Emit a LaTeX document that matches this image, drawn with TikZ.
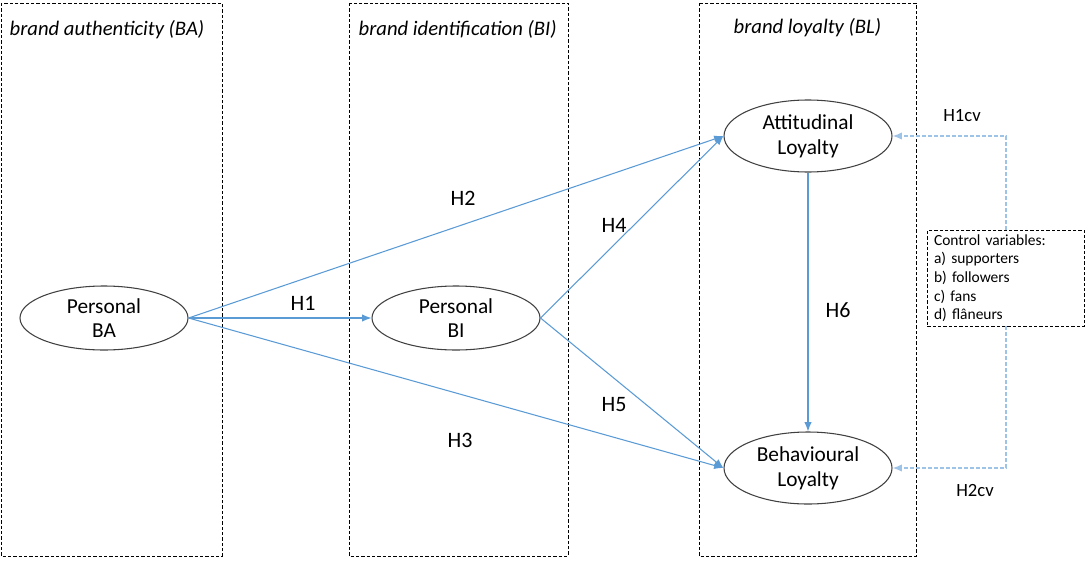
\documentclass[tikz,border=0pt]{standalone}
\usepackage{fontspec}
\setmainfont{Carlito}
\usetikzlibrary{shapes.geometric,arrows.meta}
\definecolor{pathblue}{HTML}{5B9BD5}
\definecolor{cvblue}{HTML}{9DC3E6}

\begin{document}
\begin{tikzpicture}[x=0.75pt,y=-0.75pt,
  groupbox/.style={draw=black,dash pattern=on 2.5pt off 1.5pt,line width=0.6pt},
  construct/.style={ellipse,draw=black!75,line width=0.8pt,minimum width=126pt,
    minimum height=48pt,align=center,inner sep=0pt,
    font=\fontsize{16}{18.5}\selectfont},
  hyp/.style={draw=pathblue,line width=0.8pt,-{Latex[length=7pt,width=5.5pt]}},
  cvpath/.style={draw=cvblue,line width=1pt,dash pattern=on 3pt off 1.5pt,
    -{Latex[length=7pt,width=5.5pt]}},
  hlabel/.style={font=\fontsize{16.5}{18}\selectfont},
  title/.style={anchor=west,font=\fontsize{15.5}{17}\selectfont\itshape}
]
  \useasboundingbox (0,0) rectangle (1087,560);

  % the three groups
  \draw[groupbox] (1,3) rectangle (222,556);
  \draw[groupbox] (349,3) rectangle (568,556);
  \draw[groupbox] (699,3) rectangle (916,556);
  \node[title] (tba) at (5,30) {brand authenticity (BA)};
  \node[title] (tbi) at (354,29) {brand identification (BI)};
  \node[title] (tbl) at (729,28) {brand loyalty (BL)};

  % constructs
  \node[construct] (ba) at (104,318) {Personal\\BA};
  \node[construct] (bi) at (456,318) {Personal\\BI};
  \node[construct,minimum height=54pt] (att) at (808,136) {Attitudinal\\Loyalty};
  \node[construct,minimum height=54pt] (beh) at (808,468) {Behavioural\\Loyalty};

  % control variables
  \node[groupbox,anchor=north west,align=left,text width=108pt,inner xsep=5pt,
    inner ysep=3pt,font=\fontsize{11.6}{14}\selectfont] (cvbox) at (927,230)
    {Control variables:\\a) supporters\\b) followers\\c) fans\\d) flâneurs};

  % hypotheses
  \draw[hyp] (ba.east) -- (bi.west);
  \draw[hyp] (ba.east) -- (att.west);
  \draw[hyp] (ba.east) -- (beh.west);
  \draw[hyp] (bi.east) -- (att.west);
  \draw[hyp] (bi.east) -- (beh.west);
  \draw[hyp] (att.south) -- (beh.north);
  \node[hlabel] (h1) at (303,303) {H1};
  \node[hlabel] (h2) at (463,198) {H2};
  \node[hlabel] (h3) at (460,440) {H3};
  \node[hlabel] (h4) at (614,225) {H4};
  \node[hlabel] (h5) at (614,405) {H5};
  \node[hlabel] (h6) at (838,310) {H6};

  % control paths
  \draw[cvpath] (cvbox.north) |- (att.east);
  \draw[cvpath] (cvbox.south) |- (beh.east);
  \node[font=\fontsize{14}{16}\selectfont] (h1cv) at (962,116) {H1cv};
  \node[font=\fontsize{14}{16}\selectfont] (h2cv) at (975,490) {H2cv};
\end{tikzpicture}
\end{document}
